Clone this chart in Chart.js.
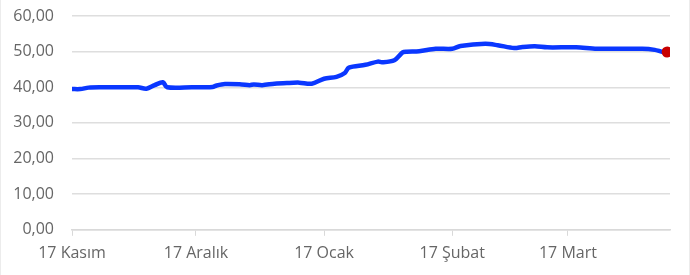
<!DOCTYPE html>
<html>
<head>
<meta charset="utf-8">
<script src="https://cdn.jsdelivr.net/npm/chart.js@4/dist/chart.umd.min.js"></script>
<style>
  body { margin: 0; background: #fff; }
  #kutu { width: 690px; height: 275px; box-sizing: border-box; border-left: 1px solid #ececec; border-right: 1px solid #ececec; }
</style>
</head>
<body>
<div id="kutu"><canvas id="grafik" width="688" height="275"></canvas></div>
<script>
// gün (17 Kasım'dan itibaren) ve değerler
const gunler = [0, 2, 4, 7, 12, 16, 18, 20, 22, 23, 29, 34, 35, 37, 41, 43, 44, 46, 49, 52, 55, 58, 61, 64, 66, 67, 71, 74, 75, 78, 80, 81, 84, 88, 92, 94, 100, 103, 107, 109, 112, 115, 122, 127, 138, 141, 143, 144];
const degerler = [39.5, 39.5, 39.9, 40.0, 40.0, 40.0, 39.6, 40.6, 41.4, 40.0, 40.0, 40.1, 40.5, 40.9, 40.8, 40.6, 40.8, 40.6, 41.0, 41.2, 41.3, 41.0, 42.4, 42.9, 44.0, 45.5, 46.3, 47.2, 47.0, 47.6, 49.8, 50.0, 50.1, 50.8, 50.8, 51.6, 52.2, 51.8, 51.0, 51.3, 51.5, 51.2, 51.2, 50.8, 50.8, 50.5, 49.9, 49.9];
// x ekseni etiketleri
const etiketGunleri = [0, 30, 61, 92, 120];
const etiketler = ["17 Kasım", "17 Aralık", "17 Ocak", "17 Şubat", "17 Mart"];

const noktalar = gunler.map((g, i) => ({ x: g, y: degerler[i] }));
const son = noktalar.length - 1;

new Chart(document.getElementById("grafik"), {
    type: "line",
    data: {
        datasets: [{
            data: noktalar,
            borderColor: "#0a37ff",
            borderWidth: 4.5,
            tension: 0.3,
            pointRadius: (ctx) => (ctx.dataIndex === son ? 5.5 : 0),
            pointBackgroundColor: "#c80000",
            pointBorderWidth: 0,
        }],
    },
    options: {
        responsive: false,
        animation: false,
        layout: { padding: { left: 11, right: 19, top: 0, bottom: 4 } },
        plugins: { legend: { display: false }, tooltip: { enabled: false } },
        scales: {
            x: {
                type: "linear",
                min: 0,
                max: 144.7,
                afterBuildTicks: (eksen) => {
                    eksen.ticks = etiketGunleri.map((v) => ({ value: v }));
                },
                ticks: {
                    autoSkip: false,
                    maxRotation: 0,
                    padding: 8,
                    color: "#666",
                    font: { family: "Open Sans", size: 16 },
                    callback: (v) => etiketler[etiketGunleri.indexOf(v)],
                },
                grid: { display: true, drawOnChartArea: false, drawTicks: true, tickLength: 6, color: "#d9d9d9" },
                border: { display: true, color: "#d9d9d9", width: 1.5 },
            },
            y: {
                min: 0,
                max: 60,
                afterFit: (eksen) => {
                    eksen.width = 60;
                    eksen.paddingTop = 16;
                },
                ticks: {
                    stepSize: 10,
                    padding: 18,
                    color: "#666",
                    font: { family: "Open Sans", size: 16 },
                    callback: (v) => v.toFixed(2).replace(".", ","),
                },
                grid: { color: "#dedede", lineWidth: 1.5, drawTicks: false },
                border: { display: false },
            },
        },
    },
});
</script>
</body>
</html>
